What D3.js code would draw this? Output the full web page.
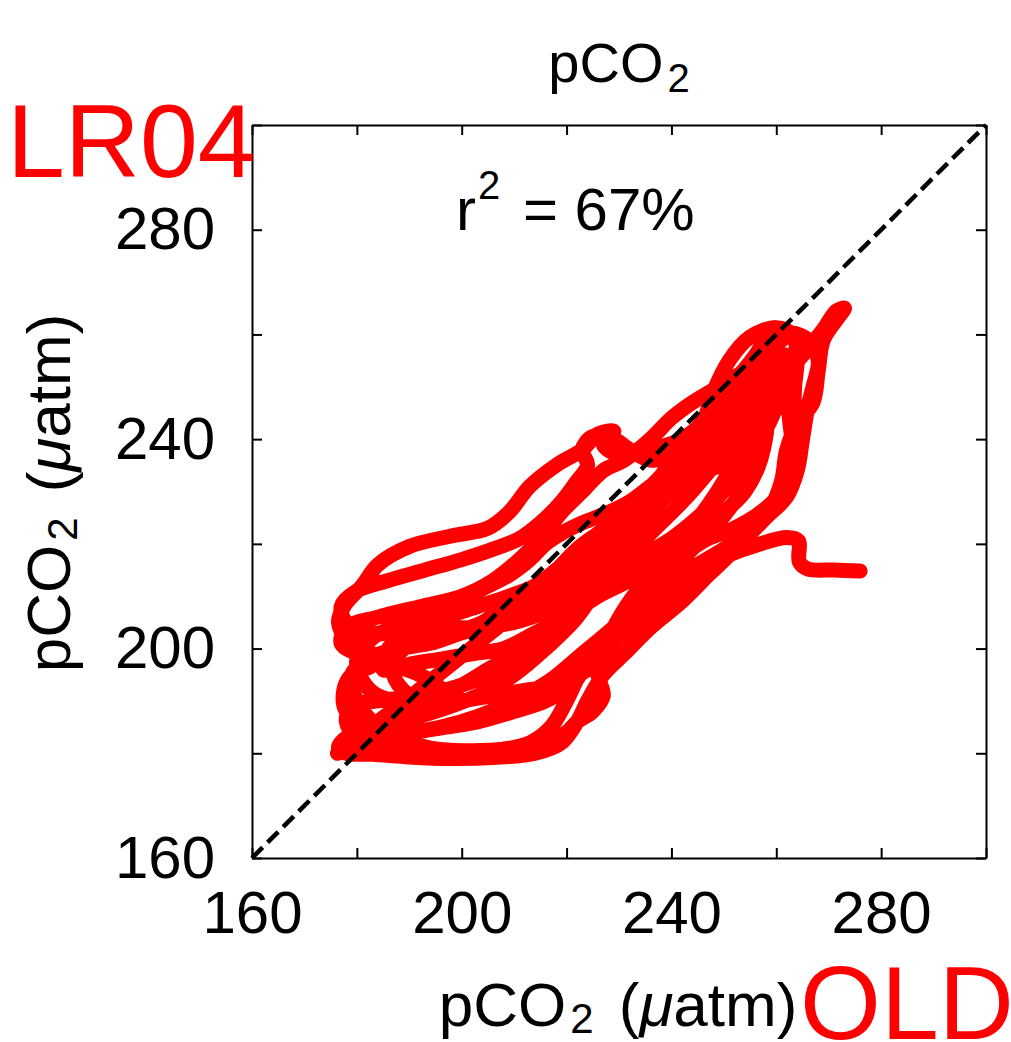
<!DOCTYPE html>
<html lang="en">
<head>
<meta charset="UTF-8" />
<title>pCO2 LR04 vs OLD</title>
<script src="https://cdn.jsdelivr.net/npm/d3@7"></script>
<style>
  body { margin: 0; background: #fff; }
  svg text { font-family: "Liberation Sans", Arial, sans-serif; }
</style>
</head>
<body>
<div id="chart"></div>
<script>
// axis settings
const domainMin = 160, domainMax = 300;
const tickValues = [160, 180, 200, 220, 240, 260, 280, 300];
const labelledTicks = [160, 200, 240, 280];

// pCO2 trajectory: [OLD age model, LR04 age model] in uatm
const pco2Pairs = [
  // tail
  [276,214.8],[271,215],[266,215.2],[264.4,216.5],[264.2,220.6],[262,221.2],[257,220],[250,217.5],[243,214],[237,210],
  [232,206],[227,201],[223,196],[220,190],[217,185],[213,182],[206,180.5],[198,180],[190,180.3],[184,181],
  // up to top right
  [180,183],[178,186],[179,189],[184,190],[192,191],[200,193],[207,196],[213,200],[219,205],[225,211],
  [231,217],[237,223],[243,229],[249,236],[255,243],[260,250],[265,256],[269,261],[271.5,264.5],[273,265],[272,263.5],
  // down right side
  [269,259],[268,253],[267,247],[264,243],[262,238],[261,232],[259,227],[255,222],[250,219],[245,216],
  [240,213],[235,209],[229,204],[223,199],[217,194],[210,190],[203,187],[196,185],[189,184],[183,185],
  // left lobe and upper envelope
  [178,188],[177.5,192],[179,195],[183,197],[182,200],[178,202],[176.5,205],[177.5,208],[181,212],[184,216],
  [190,219.5],[198,221.5],[205,223],[209,226],[213,231],[218,235],[223,238],[226,241],[229,241.5],[227,239],
  [230,237],[236,238],[242,240],[247,244],[252,248],[256,253],[260,258],[263,260],[265,258],
  // down the middle
  [262,253],[258,249],[254,245],[250,241],[246,237],[242,233],[238,229],[233,225],[228,221],[223,217],
  [218,213],[213,209],[208,205],[203,201],[198,197],[193,193],[188,189],[184,186],[181,183],
  // up to the top loop
  [182,184],[188,186],[195,188],[203,191],[210,195],[216,200],[222,206],[226,212],[229,218],[233,224],
  [237,229],[240,233],[243,238],[246,243],[248,249],[251,255],[255,259.5],[260,261.3],[263,260],[264,256],
  // down the right, lower envelope
  [263.5,250],[263.3,244],[263,238],[262,232],[259,227],[255,224],[252,219],[247,214],[242,209],[236,204],
  [231,199],[227,195],[224,190],[222,186],[219,182],[214,180],[206,179.2],[198,179],[190,179.3],[183,179.8],[178,180],
  // left lobe, upper-left envelope
  [176.5,181],[178,183],[182,184],[188,186],[193,189],[196,192],[192,195],[186,197],[180,199],[177,201],
  [178,204],[184,206],[192,208],[200,210],[206,213],[211,217],[215,221],[219,226],[223,230],[227,234],
  [231,236],[236,240],[240,244],[244,247],[249,250],[254,253],[258,255],[262,256],
  // down, interior
  [262,252],[260,246],[257,240],[253,234],[249,229],[245,225],[240,221],[235,218],[230,215],[225,211],
  [220,207],[215,203],[210,199],[205,196],[200,193],[195,191],[189,190],[184,191],
  // mid-left loop
  [181,194],[180,198],[183,202],[189,205],[196,208],[203,211],[209,214],[213,217],[216,220],[219,222],
  [223,224],[228,226],[232,228],[236,231],[240,234],[244,237],[248,240],[252,243],[255,246],[258,250],[260,254],
  // down with bottom bump
  [259,250],[256,244],[253,238],[250,232],[246,226],[241,220],[236,214],[232,209],[229,204],[227,199],
  [226,195],[227,191],[225,188],[222,186],[220,184],[216,182],[210,181],[202,180.5],[194,181],[188,183],[183,186],
  // across the left at 200-214
  [180,190],[179,195],[182,198],[188,200],[194,201],[200,203],[207,205],[214,208],[220,211],[226,215],
  [230,219],[234,224],[238,228],[242,232],[246,236],[251,238],[255,240],[258,243],
  // down, then up the upper-left band
  [257,236],[254,230],[250,226],[245,222],[240,219],[234,216],[228,213],[222,210],[216,207],[210,205],
  [203,204],[196,204],[189,203],[183,203],[178,205],[177,208],[180,211],[186,213],[193,215],[200,217],
  [206,219],[211,221],[215,224],[219,228],[222,232],[224,235],[223,238],[225,240.5],[229,240],[232,238],
  [236,236],[241,237],[246,240],[251,244],[255,248],[258,252],[261,255],
  // down the right verticals, up again
  [262,250],[262.5,244],[263,237],[261,230],[257,226],[252,223],[247,221],[242,218],[237,216],[232,213],
  [226,210],[220,206],[214,203],[208,200],[202,199],[196,198],[190,197],[185,196],
  [186,200],[191,203],[197,206],[203,208],[209,210],[214,212],[218,215],[222,219],[226,222],[230,225],
  [234,229],[238,233],[241,237],[244,241],[248,246],[252,251],[256,256],[258,259],[261,260.5],
  // down from the top, up through the band
  [266,259],[268,255],[267,250],[266,246],[265,240],[264,234],[262,229],[258,225],[254,221],[249,217],
  [244,213],[240,210],[236,207],[232,204],[228,200],[224,196],[218,193],[212,192],[206,191],[200,190],[194,189],
  [190,191],[187,195],[188,199],[193,202],[198,203],[204,205],[208,208],[212,211],[217,212],[222,214],
  [227,217],[231,220],[234,223],[237,227],[240,230],[243,232],[247,234],[251,236],[254,239],[257,242],
  // final descent
  [257,238],[255,233],[252,228],[248,223],[243,218],[238,212],[233,206],[228,201],[224,197],[221,193],
  [216,190],[210,188],[203,186],[197,185],[191,184],[186,183],[182,181.5],[178,180.5],[176.3,180]
];

const w = 1011, h = 1042;
const plotLeft = 252, plotRight = 986, plotTop = 125, plotBottom = 858;

const svg = d3.select("#chart").append("svg")
  .attr("width", w)
  .attr("height", h);

const x = d3.scaleLinear([domainMin, domainMax], [plotLeft, plotRight]);
const y = d3.scaleLinear([domainMin, domainMax], [plotBottom, plotTop]);

const fmt = d => labelledTicks.includes(d) ? d : "";

// red trajectory
const line = d3.line()
  .x(d => x(d[0]))
  .y(d => y(d[1]))
  .curve(d3.curveCatmullRom.alpha(0.5));

svg.append("path")
  .datum(pco2Pairs)
  .attr("d", line)
  .attr("fill", "none")
  .attr("stroke", "#ff0000")
  .attr("stroke-width", 15)
  .attr("stroke-linejoin", "round")
  .attr("stroke-linecap", "round");

// 1:1 line
svg.append("line")
  .attr("x1", x(domainMin)).attr("y1", y(domainMin))
  .attr("x2", x(domainMax)).attr("y2", y(domainMax))
  .attr("stroke", "#000")
  .attr("stroke-width", 4.5)
  .attr("stroke-dasharray", "15,7");

// axes, ticks pointing inward
const styleAxis = g => {
  g.select(".domain").attr("stroke", "#000").attr("stroke-width", 2);
  g.selectAll(".tick line").attr("stroke", "#000").attr("stroke-width", 2);
  g.selectAll(".tick text").attr("fill", "#000").attr("font-size", 60)
    .attr("font-family", "Liberation Sans, Arial, sans-serif");
};

svg.append("g")
  .attr("transform", `translate(0,${plotBottom})`)
  .call(d3.axisBottom(x).tickValues(tickValues).tickFormat(fmt).tickSize(-10).tickSizeOuter(0).tickPadding(32))
  .call(styleAxis);

svg.append("g")
  .attr("transform", `translate(${plotLeft},0)`)
  .call(d3.axisLeft(y).tickValues(tickValues).tickFormat(fmt).tickSize(-10).tickSizeOuter(0).tickPadding(37))
  .call(styleAxis);

svg.append("g")
  .attr("transform", `translate(0,${plotTop})`)
  .call(d3.axisTop(x).tickValues(tickValues).tickFormat("").tickSize(-10).tickSizeOuter(0))
  .call(styleAxis);

svg.append("g")
  .attr("transform", `translate(${plotRight},0)`)
  .call(d3.axisRight(y).tickValues(tickValues).tickFormat("").tickSize(-10).tickSizeOuter(0))
  .call(styleAxis);

// title
const title = svg.append("text")
  .attr("x", (plotLeft + plotRight) / 2).attr("y", 82)
  .attr("text-anchor", "middle").attr("font-size", 56);
title.append("tspan").text("pCO");
title.append("tspan").attr("font-size", 40).attr("dx", 4).attr("dy", 10).text("2");

// r squared
const r2 = svg.append("text").attr("x", 456).attr("y", 230).attr("font-size", 60);
r2.append("tspan").text("r");
r2.append("tspan").attr("font-size", 40).attr("dx", 2).attr("dy", -31).text("2");
r2.append("tspan").attr("dx", 6).attr("dy", 31).text(" = 67%");

// axis labels
const unitLabel = (sel) => {
  sel.append("tspan").text("pCO");
  sel.append("tspan").attr("font-size", 42).attr("dx", 4).attr("dy", 7).text("2");
  sel.append("tspan").attr("dx", 8).attr("dy", -7).text(" (");
  sel.append("tspan").attr("font-style", "italic").text("\u03bc");
  sel.append("tspan").text("atm)");
};

svg.append("text")
  .attr("x", 618).attr("y", 1026)
  .attr("text-anchor", "middle").attr("font-size", 62)
  .call(unitLabel);

svg.append("text")
  .attr("transform", "translate(70,493) rotate(-90)")
  .attr("text-anchor", "middle").attr("font-size", 62)
  .call(unitLabel);

// age model labels
svg.append("text")
  .attr("x", 7).attr("y", 177)
  .attr("font-size", 104).attr("fill", "#ff0000")
  .text("LR04");

svg.append("text")
  .attr("x", 800).attr("y", 1039)
  .attr("font-size", 104).attr("fill", "#ff0000")
  .text("OLD");
</script>
</body>
</html>
